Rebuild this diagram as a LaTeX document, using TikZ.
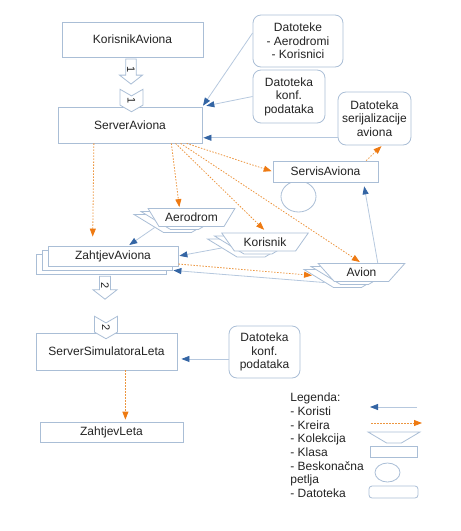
\documentclass[tikz,border=0pt]{standalone}
\usepackage{fontspec}
\setmainfont{Liberation Sans}
\usepackage{tikz}
\usetikzlibrary{shapes, arrows.meta}

\definecolor{okvir}{RGB}{170,190,214}
\definecolor{plavaLinija}{RGB}{182,200,222}
\definecolor{plavaGlava}{RGB}{52,101,164}
\definecolor{narancasta}{RGB}{236,150,64}
\definecolor{narancastaGlava}{RGB}{238,122,18}
\definecolor{tekst}{RGB}{35,35,35}

\begin{document}
\begin{tikzpicture}[
    x = 1pt, y = -1pt,
    font = \fontsize{12}{13.5}\selectfont,
    text = tekst,
    line width = 0.8pt,
    klasa/.style = {rectangle,
      draw = okvir, fill = white,
      inner sep = 0pt},
    datoteka/.style = {rectangle, rounded corners = 8pt,
      draw = okvir, fill = white,
      align = center, inner sep = 0pt},
    kolekcija/.style = {trapezium, trapezium angle = 45,
      shape border rotate = 180, trapezium stretches = true,
      draw = okvir, fill = white,
      minimum width = 87pt, minimum height = 18pt, inner sep = 0pt},
    petlja/.style = {ellipse, draw = okvir, fill = white, inner sep = 0pt},
    poruka/.style = {single arrow, rotate = -90,
      draw = okvir, fill = white,
      single arrow head extend = 6pt, single arrow tip angle = 104,
      minimum width = 23pt, minimum height = 25pt, inner sep = 1pt,
      font = \fontsize{11}{11}\selectfont},
    odgovor/.style = {signal, rotate = -90,
      signal from = west, signal to = east, signal pointer angle = 120,
      draw = okvir, fill = white,
      minimum width = 22.5pt, minimum height = 23pt, inner sep = 1pt,
      font = \fontsize{11}{11}\selectfont},
    koristi/.style = {draw = plavaLinija, shorten > = 1pt,
      -{Triangle[length = 8pt, width = 6pt, color = plavaGlava]}},
    kreira/.style = {draw = narancasta, dash pattern = on 1.5pt off 1.5pt, shorten > = 1pt,
      -{Triangle[length = 8pt, width = 6pt, color = narancastaGlava]}}
    ]

    \useasboundingbox (0, 0) rectangle (461, 531);

    % klase
    \node at (132.5, 39.5) [klasa, minimum width = 141pt, minimum height = 35pt, name = KorisnikAviona] {KorisnikAviona};
    \node at (130, 125) [klasa, minimum width = 144pt, minimum height = 36pt, name = ServerAviona] {ServerAviona};
    \node at (298.5, 196.5) [petlja, minimum width = 35pt, minimum height = 31pt, name = petlja] {};
    \node at (325.5, 171.5) [klasa, minimum width = 105pt, minimum height = 21pt, name = ServisAviona] {ServisAviona};
    \node at (106.5, 351.5) [klasa, minimum width = 141pt, minimum height = 37pt, name = ServerSimulatoraLeta] {ServerSimulatoraLeta};
    \node at (111.5, 432) [klasa, minimum width = 143pt, minimum height = 20pt, name = ZahtjevLeta] {ZahtjevLeta};

    \node at (101, 264) [klasa, minimum width = 130pt, minimum height = 20pt, name = ZahtjevAviona3] {};
    \node at (107, 260) [klasa, minimum width = 130pt, minimum height = 20pt, name = ZahtjevAviona2] {};
    \node at (113, 256) [klasa, minimum width = 130pt, minimum height = 20pt, name = ZahtjevAviona] {ZahtjevAviona};

    % kolekcije
    \node at (177.5, 223.5) [kolekcija, name = Aerodrom3] {\phantom{x}};
    \node at (184.5, 220.5) [kolekcija, name = Aerodrom2] {\phantom{x}};
    \node at (191.5, 217.5) [kolekcija, name = Aerodrom] {Aerodrom};
    \node at (251, 248) [kolekcija, name = Korisnik3] {\phantom{x}};
    \node at (258, 245) [kolekcija, name = Korisnik2] {\phantom{x}};
    \node at (265, 242) [kolekcija, name = Korisnik] {Korisnik};
    \node at (347.5, 278.5) [kolekcija, name = Avion3] {\phantom{x}};
    \node at (354.5, 275.5) [kolekcija, name = Avion2] {\phantom{x}};
    \node at (361.5, 272.5) [kolekcija, name = Avion] {Avion};

    % datoteke
    \node at (298, 41) [datoteka, minimum width = 90pt, minimum height = 52pt, name = datoteke] {Datoteke\\ - Aerodromi\\ - Korisnici};
    \node at (289, 96.5) [datoteka, minimum width = 72pt, minimum height = 53pt, name = konf1] {Datoteka\\konf.\\podataka};
    \node at (374.5, 118.5) [datoteka, minimum width = 73pt, minimum height = 53pt, name = serij] {Datoteka\\serijalizacije\\aviona};
    \node at (264.5, 352) [datoteka, minimum width = 71pt, minimum height = 52pt, name = konf2] {Datoteka\\konf.\\podataka};

    % poruke
    \node at (131, 69.5) [poruka, name = poruka1] {1};
    \node at (131.5, 100.5) [odgovor, name = odgovor1] {1};
    \node at (105, 285.5) [poruka, minimum width = 24pt, minimum height = 23pt, name = poruka2] {2};
    \node at (106, 327.5) [odgovor, name = odgovor2] {2};

    % koristi
    \draw [koristi] (datoteke.170) to (ServerAviona.north east);
    \draw [koristi, shorten > = 4pt] (konf1.west) to (ServerAviona.north east);
    \draw [koristi] (serij.west |- ServerAviona.-10) to (ServerAviona.-10);
    \draw [koristi] (Aerodrom3.190) to (ZahtjevAviona.34);
    \draw [koristi] (Korisnik3.180) to (ZahtjevAviona.east);
    \draw [koristi] (Avion3.190) to (ZahtjevAviona2.-9);
    \draw [koristi, shorten > = 4pt] (Avion.30) to (ServisAviona.-16);
    \draw [koristi, shorten > = 4pt] (konf2.west |- ServerSimulatoraLeta.-6) to (ServerSimulatoraLeta.-6);

    % kreira
    \draw [kreira, shorten > = 9pt] (ServerAviona.207) to (ZahtjevAviona.153);
    \draw [kreira] (ServerAviona.-24) to (Aerodrom.142);
    \draw [kreira, shorten > = 4pt] (ServerAviona.-22) to (Korisnik.78);
    \draw [kreira, shorten > = 2pt] (ServerAviona.-20) to (Avion.north);
    \draw [kreira] (ServerAviona.-18) to (ServisAviona.west);
    \draw [kreira] (ServisAviona.15) to (serij.-74);
    \draw [kreira] (ZahtjevAviona.-7) to (Avion3.175);
    \draw [kreira, shorten > = 2pt] (ServerSimulatoraLeta.-45) to (ServerSimulatoraLeta.-45 |- ZahtjevLeta.north);

    % legenda
    \node at (290, 392.5) [anchor = north west, align = left, inner sep = 0pt,
      font = \fontsize{12}{13.7}\selectfont, name = legenda]
      {Legenda:\\- Koristi\\- Kreira\\- Kolekcija\\- Klasa\\- Beskonačna\\petlja\\- Datoteka};
    \coordinate (koristiOd) at (417, 407);
    \coordinate (koristiDo) at (370, 407);
    \coordinate (kreiraOd) at (371, 423);
    \coordinate (kreiraDo) at (422, 423);
    \draw [koristi, shorten > = 0pt] (koristiOd) to (koristiDo);
    \draw [kreira, shorten > = 0pt] (kreiraOd) to (kreiraDo);
    \node at (394, 437.5) [kolekcija, trapezium angle = 40, minimum width = 52pt, minimum height = 11pt, name = legendaKolekcija] {\phantom{x}};
    \node at (393.5, 451.5) [klasa, minimum width = 47pt, minimum height = 11pt, name = legendaKlasa] {};
    \node at (387.5, 472.5) [petlja, minimum width = 25pt, minimum height = 19pt, name = legendaPetlja] {};
    \node at (393.5, 492) [datoteka, rounded corners = 3pt, minimum width = 49pt, minimum height = 12pt, name = legendaDatoteka] {};

\end{tikzpicture}
\end{document}
